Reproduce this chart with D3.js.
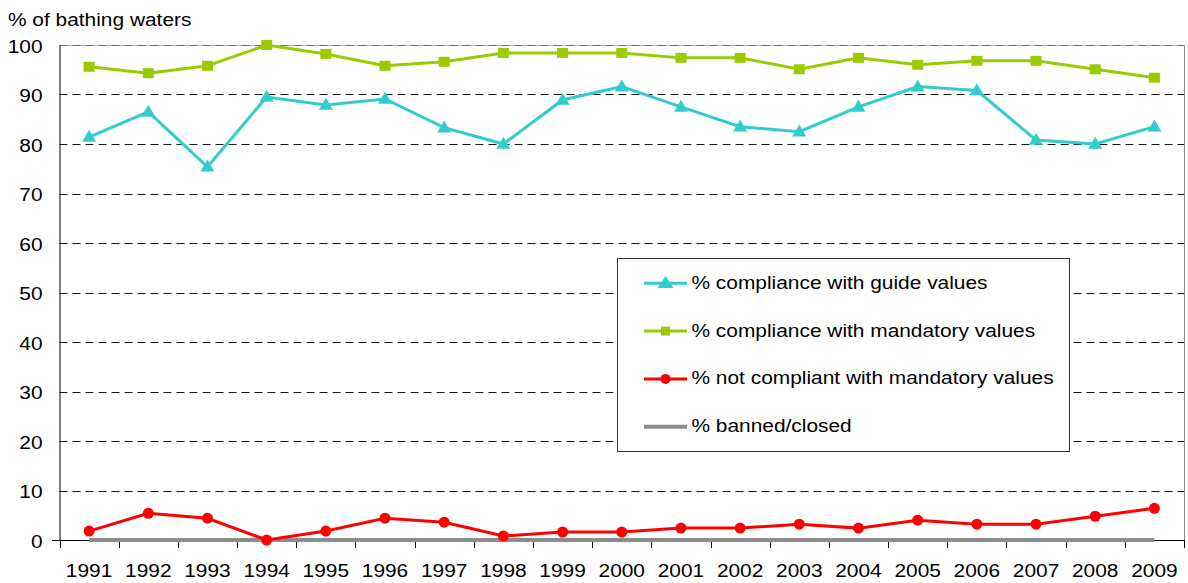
<!DOCTYPE html>
<html>
<head>
<meta charset="utf-8">
<script src="https://cdn.jsdelivr.net/npm/d3@7"></script>
<style>
  html, body { margin: 0; padding: 0; background: #fff; }
  svg { display: block; font-family: "Liberation Sans", Arial, sans-serif; }
</style>
</head>
<body>
<svg id="chart" width="1188" height="583"></svg>
<script>
const years = ["1991","1992","1993","1994","1995","1996","1997","1998","1999","2000",
               "2001","2002","2003","2004","2005","2006","2007","2008","2009"];
const guideValues     = [81.4, 86.5, 75.4, 89.5, 87.9, 89.1, 83.3, 80.0, 88.9, 91.6,
                         87.5, 83.5, 82.5, 87.5, 91.6, 90.8, 80.8, 80.0, 83.5];
const mandatoryValues = [95.6, 94.3, 95.8, 100, 98.2, 95.8, 96.6, 98.4, 98.4, 98.4,
                         97.4, 97.4, 95.1, 97.4, 96.0, 96.8, 96.8, 95.1, 93.4];
const notCompliant    = [1.8, 5.4, 4.4, 0.0, 1.8, 4.4, 3.6, 0.8, 1.6, 1.6,
                         2.4, 2.4, 3.2, 2.4, 4.0, 3.2, 3.2, 4.8, 6.4];
const bannedClosed    = [0, 0, 0, 0, 0, 0, 0, 0, 0, 0, 0, 0, 0, 0, 0, 0, 0, 0, 0];
const yTicks = [0, 10, 20, 30, 40, 50, 60, 70, 80, 90, 100];
const seriesNames = ["% compliance with guide values", "% compliance with mandatory values",
                     "% not compliant with mandatory values", "% banned/closed"];
const yTitle = "% of bathing waters";

const FS = 18.5, SX = 1.13;
const svg = d3.select("#chart");
const L = 59.5, R = 1184, T = 45, B = 540;

const x = d3.scaleBand().domain(years).range([L, R]);
const y = d3.scaleLinear().domain([0, 100]).range([B, T]);

// stretched text helper
function sText(sel, px, py, str, anchor) {
  return sel.append("text")
    .attr("transform", `translate(${px},${py}) scale(${SX},1)`)
    .attr("font-size", FS).attr("fill", "#000")
    .attr("text-anchor", anchor || "start").text(str);
}

// gridlines
svg.append("line").attr("x1", L).attr("x2", R).attr("y1", y(100) + 0.5).attr("y2", y(100) + 0.5)
  .attr("stroke", "#b8b8b8").attr("stroke-width", 1);
svg.selectAll("line.g").data(yTicks.filter(d => d > 0)).enter().append("line")
  .attr("class", "g")
  .attr("x1", L).attr("x2", R)
  .attr("y1", d => Math.round(y(d)) + 0.5).attr("y2", d => Math.round(y(d)) + 0.5)
  .attr("stroke", d => d === 100 ? "#707070" : "#1a1a1a")
  .attr("stroke-width", 1)
  .attr("stroke-dasharray", "8,5");
// right border
svg.append("line").attr("x1", R + 0.5).attr("x2", R + 0.5).attr("y1", y(100)).attr("y2", B)
  .attr("stroke", "#8a8a8a").attr("stroke-width", 1);

// y axis
const yAxis = d3.axisLeft(y).tickValues(yTicks).tickSize(0).tickPadding(0).tickFormat(d3.format("d"));
const yg = svg.append("g").attr("transform", `translate(${L},0)`).call(yAxis);
yg.select(".domain").attr("stroke", "#000");
yg.selectAll("text")
  .attr("x", null).attr("dy", null)
  .attr("transform", `translate(-17,7) scale(${SX},1)`)
  .attr("font-size", FS).attr("fill", "#000")
  .attr("font-family", "'Liberation Sans', Arial, sans-serif");

// x axis
const xAxis = d3.axisBottom(x).tickSize(0).tickPadding(0);
const xg = svg.append("g").attr("transform", `translate(0,${B})`).call(xAxis);
xg.select(".domain").remove();
xg.selectAll("text")
  .attr("y", null).attr("dy", null)
  .attr("transform", `translate(0,37) scale(${SX},1)`)
  .attr("font-size", FS).attr("fill", "#000")
  .attr("font-family", "'Liberation Sans', Arial, sans-serif");
svg.append("line").attr("x1", 52).attr("x2", R + 1).attr("y1", B + 0.5).attr("y2", B + 0.5)
  .attr("stroke", "#000");
const bounds = years.map(d => x(d)).concat([R]);
svg.selectAll("line.xt").data(bounds).enter().append("line").attr("class", "xt")
  .attr("x1", d => Math.round(d) + 0.5).attr("x2", d => Math.round(d) + 0.5)
  .attr("y1", B).attr("y2", B + 8).attr("stroke", "#000");

// title
sText(svg, 8, 26, yTitle);

const cx = (d, i) => x(years[i]) + x.bandwidth() / 2;
const line = d3.line().x(cx).y(d => y(d));

// banned/closed
svg.append("path").datum(bannedClosed).attr("d", line)
  .attr("fill", "none").attr("stroke", "#8c8c8c").attr("stroke-width", 4);

const triPath = (w, h) => `M0,${-h * 0.6}L${w / 2},${h * 0.4}L${-w / 2},${h * 0.4}Z`;
const sqPath = (w, h) => `M${-w / 2},${-h / 2}h${w}v${h}h${-w}Z`;

function drawSeries(data, color, kind) {
  const g = svg.append("g");
  g.append("path").datum(data).attr("d", line)
    .attr("fill", "none").attr("stroke", color).attr("stroke-width", 3);
  if (kind === "tri") {
    g.selectAll("path.m").data(data).enter().append("path").attr("class", "m")
      .attr("d", triPath(14, 12)).attr("fill", color)
      .attr("transform", (d, i) => `translate(${cx(d, i)},${y(d)})`);
  } else if (kind === "sq") {
    g.selectAll("path.m").data(data).enter().append("path").attr("class", "m")
      .attr("d", sqPath(11, 10)).attr("fill", color)
      .attr("transform", (d, i) => `translate(${cx(d, i)},${y(d)})`);
  } else {
    g.selectAll("circle").data(data).enter().append("circle")
      .attr("cx", cx).attr("cy", d => y(d)).attr("r", 5.5).attr("fill", color);
  }
}
drawSeries(notCompliant, "#ff0000", "circle");
drawSeries(mandatoryValues, "#99cc00", "sq");
drawSeries(guideValues, "#33cccc", "tri");

// legend
const lg = svg.append("g");
lg.append("rect").attr("x", 617.5).attr("y", 258.5).attr("width", 452).attr("height", 193)
  .attr("fill", "#fff").attr("stroke", "#333").attr("stroke-width", 1);
const legendItems = [
  {name: seriesNames[0], color: "#33cccc", kind: "tri", w: 3},
  {name: seriesNames[1], color: "#99cc00", kind: "sq", w: 3},
  {name: seriesNames[2], color: "#ff0000", kind: "circle", w: 3},
  {name: seriesNames[3], color: "#8c8c8c", kind: "none", w: 4}
];
legendItems.forEach((it, i) => {
  const yy = 283.3 + i * 47.8;
  lg.append("line").attr("x1", 644).attr("x2", 687).attr("y1", yy).attr("y2", yy)
    .attr("stroke", it.color).attr("stroke-width", it.w);
  if (it.kind === "tri") {
    lg.append("path").attr("d", triPath(16, 12)).attr("fill", it.color).attr("transform", `translate(665.5,${yy})`);
  } else if (it.kind === "sq") {
    lg.append("path").attr("d", sqPath(9, 9)).attr("fill", it.color).attr("transform", `translate(665.5,${yy})`);
  } else if (it.kind === "circle") {
    lg.append("circle").attr("cx", 665.5).attr("cy", yy).attr("r", 5).attr("fill", it.color);
  }
  sText(lg, 691.5, yy + 5.5, it.name);
});
</script>
</body>
</html>
